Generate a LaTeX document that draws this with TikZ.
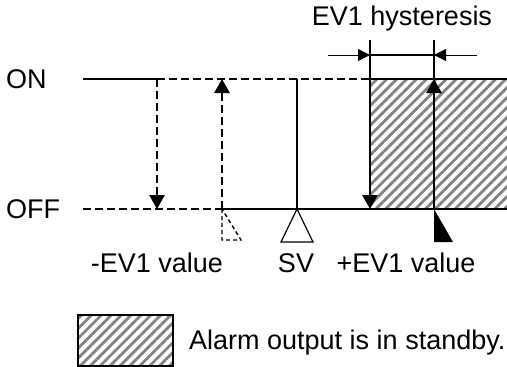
\documentclass[tikz,border=0pt]{standalone}
\usepackage{fontspec}
\setmainfont{Liberation Sans}
\usetikzlibrary{arrows.meta,patterns.meta,calc}
\definecolor{rayado}{RGB}{130,130,130}
\newcommand{\etiqueta}[3]{%
  \node[font=\fontsize{27}{32}\selectfont, inner sep=0pt, #3] (#1) at #2 }

\begin{document}
\begin{tikzpicture}[x=1pt, y=-1pt,
  linea/.style={line width=2.8pt},
  fina/.style={line width=1.2pt},
  rayas/.style={line width=2.8pt, dash pattern=on 8pt off 4pt},
  punta/.style={-{Triangle[length=14pt,width=15pt]}},
  cota/.style={-{Triangle[length=12pt,width=12pt]}, line width=1pt},
  espera/.style={pattern={Lines[angle=45,distance=7pt,line width=2.8pt]}, pattern color=rayado}]

\useasboundingbox (0,0) rectangle (507,367);

\coordinate (onIni) at (83,79);
\coordinate (onBaja) at (157,79);
\coordinate (onSube) at (222,79);
\coordinate (svArriba) at (297,79);
\coordinate (evMenosArriba) at (370,79);
\coordinate (evMasArriba) at (434,79);
\coordinate (onFin) at (507,79);
\coordinate (offIni) at (83,209);
\coordinate (offBaja) at (157,209);
\coordinate (offSube) at (222,209);
\coordinate (svAbajo) at (297,209);
\coordinate (evMenosAbajo) at (370,209);
\coordinate (evMasAbajo) at (434,209);
\coordinate (offFin) at (507,209);

\etiqueta{on}{(6,79)}{anchor=west}{ON};
\etiqueta{off}{(6,209)}{anchor=west}{OFF};

\fill[espera] (evMenosArriba) rectangle (offFin);

\draw[linea] (onIni) -- (onBaja);
\draw[rayas] (onBaja) -- (evMenosArriba);
\draw[rayas] (offIni) -- (offSube);
\draw[linea] (offSube) -- (offFin);
\draw[linea] (evMenosArriba) -- (onFin);
\draw[fina] (svArriba) -- (svAbajo);

\draw[rayas, punta] (onBaja) -- (offBaja);
\draw[rayas, punta] (offSube) -- (onSube);
\draw[linea, punta] (evMenosArriba) -- (evMenosAbajo);
\draw[linea, punta] (evMasAbajo) -- (evMasArriba);

\draw[line width=1.4pt, dash pattern=on 4pt off 3pt]
  (offSube) -- ($(offSube)+(0,31)$) -- ($(offSube)+(19,31)$) -- cycle;
\draw[fina, fill=white] (svAbajo) -- ($(svAbajo)+(-16,33)$) -- ($(svAbajo)+(16,33)$) -- cycle;
\fill (evMasAbajo) -- ($(evMasAbajo)+(0,33)$) -- ($(evMasAbajo)+(19,33)$) -- cycle;

\coordinate (cotaIzq) at (370,40);
\coordinate (cotaDer) at (434,40);
\coordinate (flechaIzq) at (370,55);
\coordinate (flechaDer) at (434,55);
\coordinate (colaIzq) at (328,55);
\coordinate (colaDer) at (477,55);
\draw[line width=2.2pt] (cotaIzq) -- (evMenosArriba);
\draw[line width=2.2pt] (cotaDer) -- (evMasArriba);
\draw[line width=2.2pt] (flechaIzq) -- (flechaDer);
\draw[cota] (colaIzq) -- (flechaIzq);
\draw[cota] (colaDer) -- (flechaDer);

\etiqueta{histeresis}{(402,19)}{}{EV1 hysteresis};
\etiqueta{menosEV}{(157,263)}{}{-EV1 value};
\etiqueta{sv}{(296,263)}{}{SV};
\etiqueta{masEV}{(406,263)}{}{+EV1 value};

\draw[fina, espera] (78,315) rectangle (173,366);
\etiqueta{leyenda}{(189,343)}{anchor=west}{Alarm output is in standby.};

\end{tikzpicture}
\end{document}
